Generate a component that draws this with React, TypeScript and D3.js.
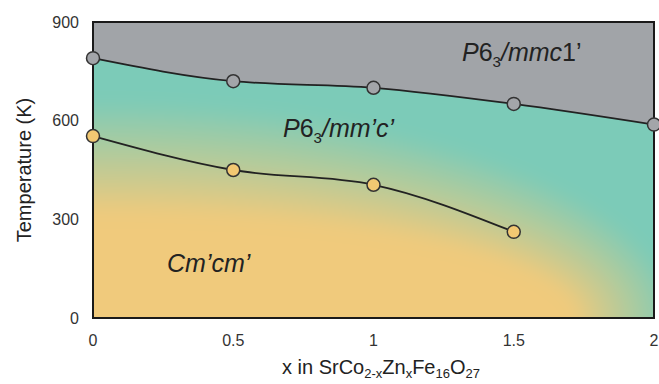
import React from "react";
import * as d3 from "d3";

// composition x and transition temperatures (K)
const compositions = [0, 0.5, 1, 1.5, 2];
const upperTemps = [790, 720, 700, 651, 588];
const lowerCompositions = [0, 0.5, 1, 1.5];
const lowerTemps = [553, 450, 405, 262];

const xTicks = [0, 0.5, 1, 1.5, 2];
const yTicks = [0, 300, 600, 900];

const W = 659;
const H = 384;
const margin = { top: 22, right: 4, bottom: 66, left: 93 };

const FONT = "Arial, 'Liberation Sans', sans-serif";
const TEAL = "#7ccbb8";
const ORANGE = "#f0ca7b";

// background shading: the orange phase fades into teal between two ellipses
// anchored at (x=0, T=0); radii given in data units
const orangeEdge = { rx: 1.71, ry: 310 };
const tealEdge = { rx: 2.08, ry: 663 };
const STEPS = 12;

const App = () => {
  const x = d3.scaleLinear().domain([0, 2]).range([margin.left, W - margin.right - 1]);
  const y = d3.scaleLinear().domain([0, 900]).range([H - margin.bottom, margin.top]);

  const upper = compositions.map((c, i) => [c, upperTemps[i]] as [number, number]);
  const lower = lowerCompositions.map((c, i) => [c, lowerTemps[i]] as [number, number]);

  const line = d3
    .line<[number, number]>()
    .x(d => x(d[0]))
    .y(d => y(d[1]))
    .curve(d3.curveMonotoneX);

  const grayArea = d3
    .area<[number, number]>()
    .x(d => x(d[0]))
    .y0(y(900))
    .y1(d => y(d[1]))
    .curve(d3.curveMonotoneX);

  const x0 = x(0);
  const plotW = x(2) - x(0);
  const plotH = y(0) - y(900);
  const top = y(900);
  const bottom = y(0);

  const color = d3.interpolateRgb(ORANGE, TEAL);
  const rings = d3.range(STEPS, -1, -1).map(k => {
    const t = k / STEPS;
    const rx = x(orangeEdge.rx + (tealEdge.rx - orangeEdge.rx) * t) - x0;
    const ry = bottom - y(orangeEdge.ry + (tealEdge.ry - orangeEdge.ry) * t);
    return { k, rx, ry, fill: k === 0 ? ORANGE : color((k - 0.5) / STEPS) };
  });

  return (
    <svg
      width={W}
      height={H}
      style={{ position: "absolute", left: 0, top: 0, background: "#fff" }}
      fontFamily={FONT}
    >
      <defs>
        <clipPath id="plotClip">
          <rect x={x0} y={top} width={plotW} height={plotH} />
        </clipPath>
        <filter id="soft" x="-20%" y="-20%" width="140%" height="140%">
          <feGaussianBlur stdDeviation={8} />
        </filter>
      </defs>

      <g clipPath="url(#plotClip)">
        <g filter="url(#soft)">
          <rect x={x0 - 40} y={top - 40} width={plotW + 80} height={plotH + 80} fill={TEAL} />
          {rings.map(r => (
            <ellipse key={r.k} cx={x0} cy={bottom} rx={r.rx} ry={r.ry} fill={r.fill} />
          ))}
        </g>
        <path d={grayArea(upper) || ""} fill="#a1a4a8" />
      </g>

      <rect x={x0} y={top} width={plotW} height={plotH} fill="none" stroke="#1a1a1a" strokeWidth={2} />

      <path d={line(upper) || ""} fill="none" stroke="#222" strokeWidth={1.8} />
      <path d={line(lower) || ""} fill="none" stroke="#222" strokeWidth={1.8} />

      {upper.map((d, i) => (
        <circle key={"u" + i} cx={x(d[0])} cy={y(d[1])} r={6.5} fill="#a3a5a9" stroke="#333" strokeWidth={1.5} />
      ))}
      {lower.map((d, i) => (
        <circle key={"l" + i} cx={x(d[0])} cy={y(d[1])} r={6.5} fill="#f2c872" stroke="#333" strokeWidth={1.5} />
      ))}

      {/* phase labels */}
      <text x={462} y={61} fontSize={25} fill="#222">
        <tspan fontStyle="italic">P</tspan>6
        <tspan fontSize={15} dy={6}>3</tspan>
        <tspan dy={-6} fontStyle="italic">/mmc</tspan>1’
      </text>
      <text x={283} y={137} fontSize={25} fill="#222">
        <tspan fontStyle="italic">P</tspan>6
        <tspan fontSize={15} dy={6}>3</tspan>
        <tspan dy={-6} fontStyle="italic">/mm’c’</tspan>
      </text>
      <text x={167} y={272} fontSize={25} fill="#222" fontStyle="italic">
        Cm’cm’
      </text>

      {/* y ticks */}
      {yTicks.map(t => (
        <text key={t} x={79} y={y(t)} dy="0.35em" textAnchor="end" fontSize={16} fill="#333">
          {t}
        </text>
      ))}
      {/* x ticks */}
      {xTicks.map(t => (
        <text key={t} x={x(t)} y={346} textAnchor="middle" fontSize={16} fill="#333">
          {t}
        </text>
      ))}

      <text
        transform={`translate(31,${(bottom + top) / 2}) rotate(-90)`}
        textAnchor="middle"
        fontSize={20}
        fill="#222"
      >
        Temperature (K)
      </text>

      <text x={381} y={374} textAnchor="middle" fontSize={20} fill="#222">
        x in SrCo<tspan fontSize={13} dy={4}>2-x</tspan>
        <tspan dy={-4}>Zn</tspan>
        <tspan fontSize={13} dy={4}>x</tspan>
        <tspan dy={-4}>Fe</tspan>
        <tspan fontSize={13} dy={4}>16</tspan>
        <tspan dy={-4}>O</tspan>
        <tspan fontSize={13} dy={4}>27</tspan>
      </text>
    </svg>
  );
};

export default App;
